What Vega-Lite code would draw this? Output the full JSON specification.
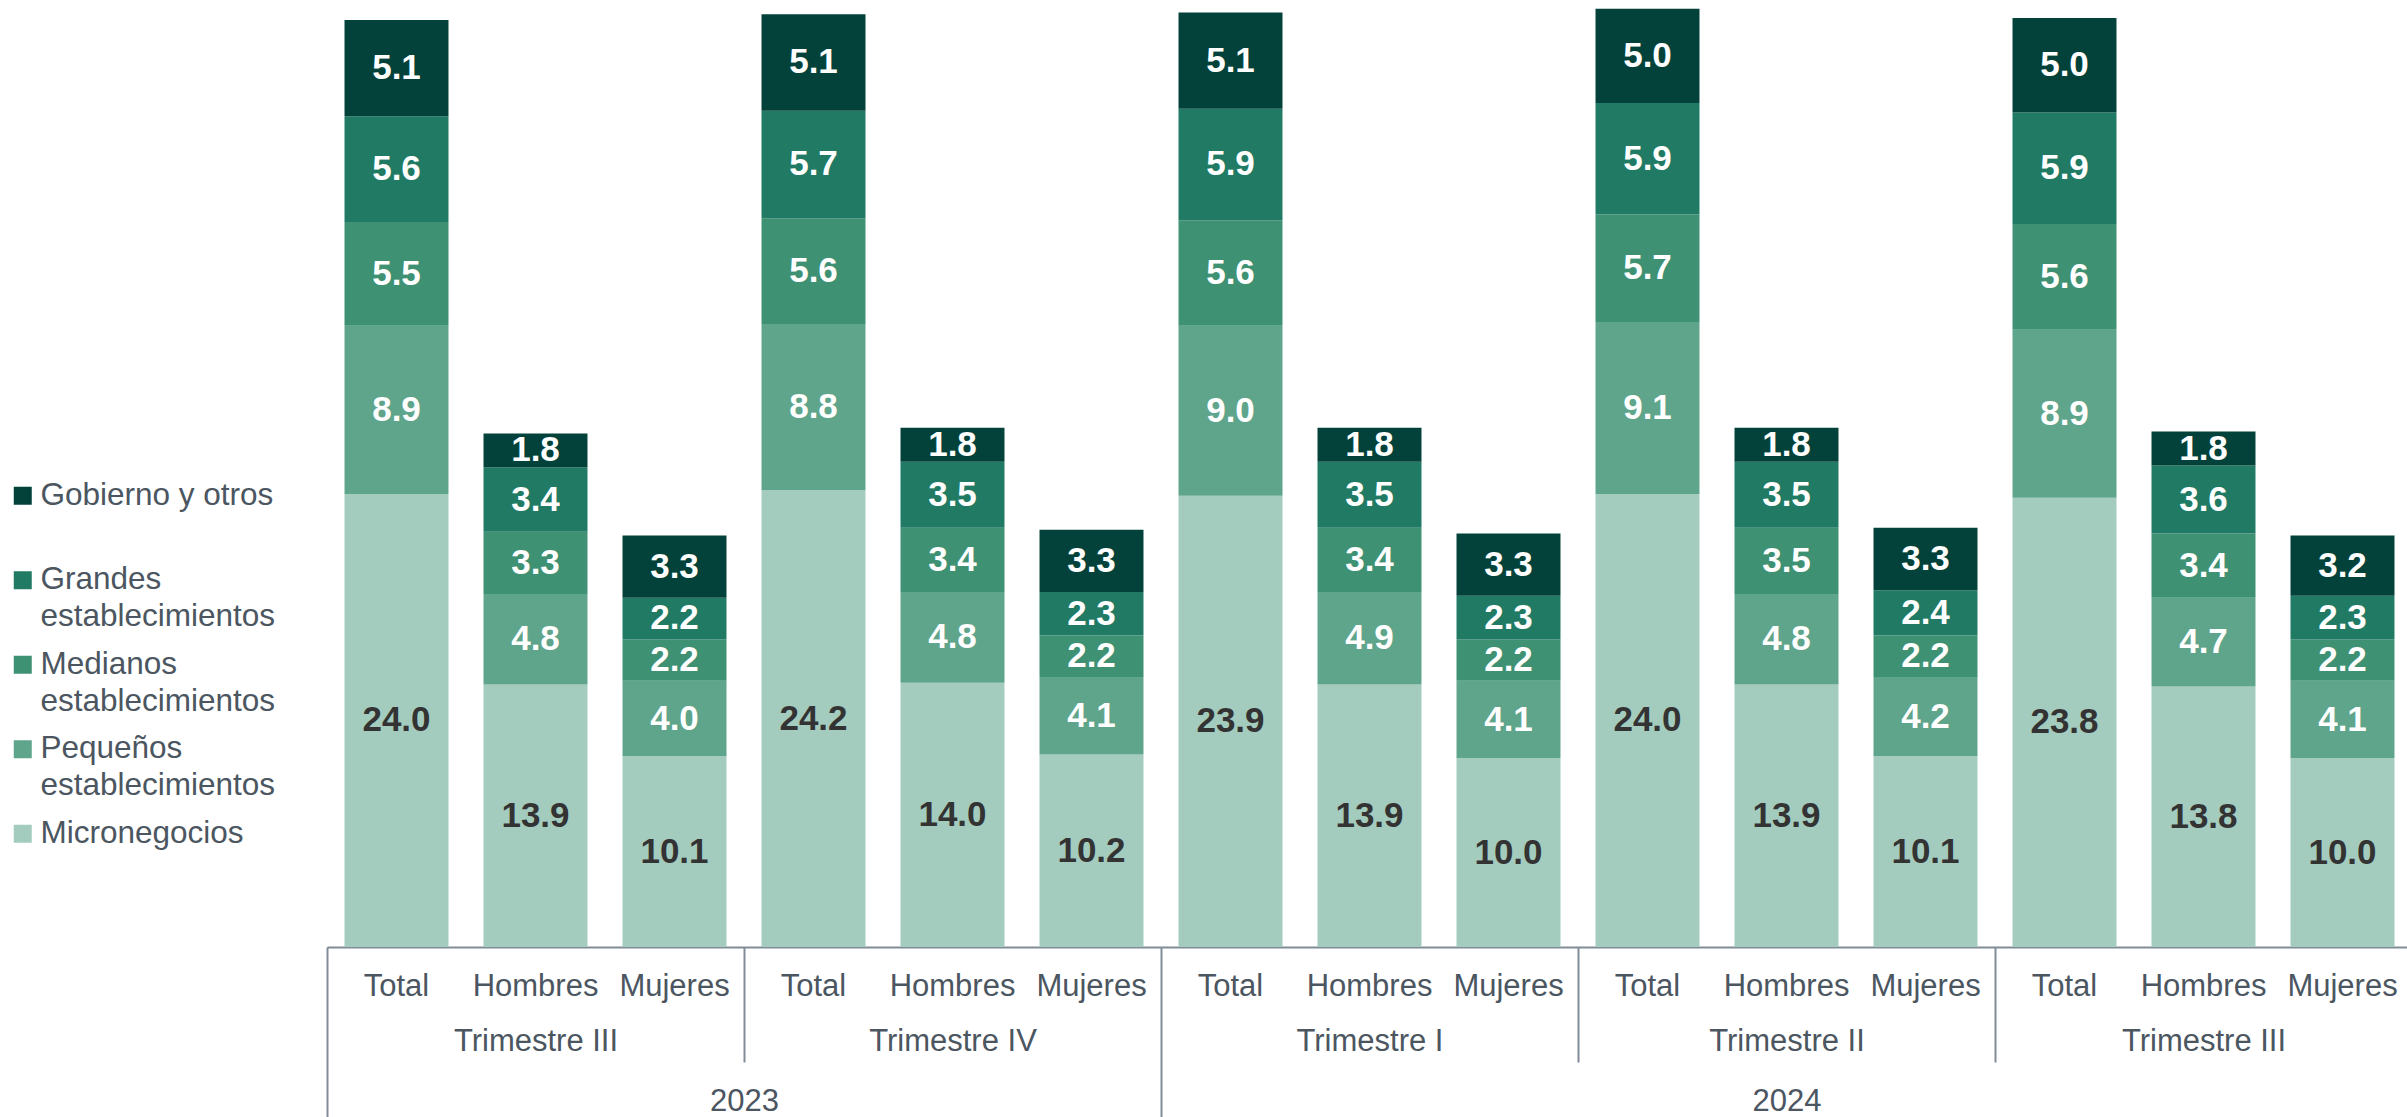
{
  "$schema": "https://vega.github.io/schema/vega-lite/v6.json",
  "width": 2085,
  "height": 947,
  "autosize": {"type": "none"},
  "padding": {"left": 327, "top": 0, "right": 0, "bottom": 170},
  "background": "white",
  "config": {
    "view": {"stroke": null},
    "font": "Liberation Sans",
    "style": {"guide-label": {"lineHeight": 37}}
  },
  "datasets": {
    "capas": [
      {"tamano": "Micronegocios", "capa": 1},
      {"tamano": "Pequeños establecimientos", "capa": 2},
      {"tamano": "Medianos establecimientos", "capa": 3},
      {"tamano": "Grandes establecimientos", "capa": 4},
      {"tamano": "Gobierno y otros", "capa": 5}
    ],
    "empleo": [
      {"clave": "2023|Trimestre III|Total", "tamano": "Micronegocios", "valor": 24.0},
      {"clave": "2023|Trimestre III|Total", "tamano": "Pequeños establecimientos", "valor": 8.9},
      {"clave": "2023|Trimestre III|Total", "tamano": "Medianos establecimientos", "valor": 5.5},
      {"clave": "2023|Trimestre III|Total", "tamano": "Grandes establecimientos", "valor": 5.6},
      {"clave": "2023|Trimestre III|Total", "tamano": "Gobierno y otros", "valor": 5.1},
      {"clave": "2023|Trimestre III|Hombres", "tamano": "Micronegocios", "valor": 13.9},
      {"clave": "2023|Trimestre III|Hombres", "tamano": "Pequeños establecimientos", "valor": 4.8},
      {"clave": "2023|Trimestre III|Hombres", "tamano": "Medianos establecimientos", "valor": 3.3},
      {"clave": "2023|Trimestre III|Hombres", "tamano": "Grandes establecimientos", "valor": 3.4},
      {"clave": "2023|Trimestre III|Hombres", "tamano": "Gobierno y otros", "valor": 1.8},
      {"clave": "2023|Trimestre III|Mujeres", "tamano": "Micronegocios", "valor": 10.1},
      {"clave": "2023|Trimestre III|Mujeres", "tamano": "Pequeños establecimientos", "valor": 4.0},
      {"clave": "2023|Trimestre III|Mujeres", "tamano": "Medianos establecimientos", "valor": 2.2},
      {"clave": "2023|Trimestre III|Mujeres", "tamano": "Grandes establecimientos", "valor": 2.2},
      {"clave": "2023|Trimestre III|Mujeres", "tamano": "Gobierno y otros", "valor": 3.3},
      {"clave": "2023|Trimestre IV|Total", "tamano": "Micronegocios", "valor": 24.2},
      {"clave": "2023|Trimestre IV|Total", "tamano": "Pequeños establecimientos", "valor": 8.8},
      {"clave": "2023|Trimestre IV|Total", "tamano": "Medianos establecimientos", "valor": 5.6},
      {"clave": "2023|Trimestre IV|Total", "tamano": "Grandes establecimientos", "valor": 5.7},
      {"clave": "2023|Trimestre IV|Total", "tamano": "Gobierno y otros", "valor": 5.1},
      {"clave": "2023|Trimestre IV|Hombres", "tamano": "Micronegocios", "valor": 14.0},
      {"clave": "2023|Trimestre IV|Hombres", "tamano": "Pequeños establecimientos", "valor": 4.8},
      {"clave": "2023|Trimestre IV|Hombres", "tamano": "Medianos establecimientos", "valor": 3.4},
      {"clave": "2023|Trimestre IV|Hombres", "tamano": "Grandes establecimientos", "valor": 3.5},
      {"clave": "2023|Trimestre IV|Hombres", "tamano": "Gobierno y otros", "valor": 1.8},
      {"clave": "2023|Trimestre IV|Mujeres", "tamano": "Micronegocios", "valor": 10.2},
      {"clave": "2023|Trimestre IV|Mujeres", "tamano": "Pequeños establecimientos", "valor": 4.1},
      {"clave": "2023|Trimestre IV|Mujeres", "tamano": "Medianos establecimientos", "valor": 2.2},
      {"clave": "2023|Trimestre IV|Mujeres", "tamano": "Grandes establecimientos", "valor": 2.3},
      {"clave": "2023|Trimestre IV|Mujeres", "tamano": "Gobierno y otros", "valor": 3.3},
      {"clave": "2024|Trimestre I|Total", "tamano": "Micronegocios", "valor": 23.9},
      {"clave": "2024|Trimestre I|Total", "tamano": "Pequeños establecimientos", "valor": 9.0},
      {"clave": "2024|Trimestre I|Total", "tamano": "Medianos establecimientos", "valor": 5.6},
      {"clave": "2024|Trimestre I|Total", "tamano": "Grandes establecimientos", "valor": 5.9},
      {"clave": "2024|Trimestre I|Total", "tamano": "Gobierno y otros", "valor": 5.1},
      {"clave": "2024|Trimestre I|Hombres", "tamano": "Micronegocios", "valor": 13.9},
      {"clave": "2024|Trimestre I|Hombres", "tamano": "Pequeños establecimientos", "valor": 4.9},
      {"clave": "2024|Trimestre I|Hombres", "tamano": "Medianos establecimientos", "valor": 3.4},
      {"clave": "2024|Trimestre I|Hombres", "tamano": "Grandes establecimientos", "valor": 3.5},
      {"clave": "2024|Trimestre I|Hombres", "tamano": "Gobierno y otros", "valor": 1.8},
      {"clave": "2024|Trimestre I|Mujeres", "tamano": "Micronegocios", "valor": 10.0},
      {"clave": "2024|Trimestre I|Mujeres", "tamano": "Pequeños establecimientos", "valor": 4.1},
      {"clave": "2024|Trimestre I|Mujeres", "tamano": "Medianos establecimientos", "valor": 2.2},
      {"clave": "2024|Trimestre I|Mujeres", "tamano": "Grandes establecimientos", "valor": 2.3},
      {"clave": "2024|Trimestre I|Mujeres", "tamano": "Gobierno y otros", "valor": 3.3},
      {"clave": "2024|Trimestre II|Total", "tamano": "Micronegocios", "valor": 24.0},
      {"clave": "2024|Trimestre II|Total", "tamano": "Pequeños establecimientos", "valor": 9.1},
      {"clave": "2024|Trimestre II|Total", "tamano": "Medianos establecimientos", "valor": 5.7},
      {"clave": "2024|Trimestre II|Total", "tamano": "Grandes establecimientos", "valor": 5.9},
      {"clave": "2024|Trimestre II|Total", "tamano": "Gobierno y otros", "valor": 5.0},
      {"clave": "2024|Trimestre II|Hombres", "tamano": "Micronegocios", "valor": 13.9},
      {"clave": "2024|Trimestre II|Hombres", "tamano": "Pequeños establecimientos", "valor": 4.8},
      {"clave": "2024|Trimestre II|Hombres", "tamano": "Medianos establecimientos", "valor": 3.5},
      {"clave": "2024|Trimestre II|Hombres", "tamano": "Grandes establecimientos", "valor": 3.5},
      {"clave": "2024|Trimestre II|Hombres", "tamano": "Gobierno y otros", "valor": 1.8},
      {"clave": "2024|Trimestre II|Mujeres", "tamano": "Micronegocios", "valor": 10.1},
      {"clave": "2024|Trimestre II|Mujeres", "tamano": "Pequeños establecimientos", "valor": 4.2},
      {"clave": "2024|Trimestre II|Mujeres", "tamano": "Medianos establecimientos", "valor": 2.2},
      {"clave": "2024|Trimestre II|Mujeres", "tamano": "Grandes establecimientos", "valor": 2.4},
      {"clave": "2024|Trimestre II|Mujeres", "tamano": "Gobierno y otros", "valor": 3.3},
      {"clave": "2024|Trimestre III|Total", "tamano": "Micronegocios", "valor": 23.8},
      {"clave": "2024|Trimestre III|Total", "tamano": "Pequeños establecimientos", "valor": 8.9},
      {"clave": "2024|Trimestre III|Total", "tamano": "Medianos establecimientos", "valor": 5.6},
      {"clave": "2024|Trimestre III|Total", "tamano": "Grandes establecimientos", "valor": 5.9},
      {"clave": "2024|Trimestre III|Total", "tamano": "Gobierno y otros", "valor": 5.0},
      {"clave": "2024|Trimestre III|Hombres", "tamano": "Micronegocios", "valor": 13.8},
      {"clave": "2024|Trimestre III|Hombres", "tamano": "Pequeños establecimientos", "valor": 4.7},
      {"clave": "2024|Trimestre III|Hombres", "tamano": "Medianos establecimientos", "valor": 3.4},
      {"clave": "2024|Trimestre III|Hombres", "tamano": "Grandes establecimientos", "valor": 3.6},
      {"clave": "2024|Trimestre III|Hombres", "tamano": "Gobierno y otros", "valor": 1.8},
      {"clave": "2024|Trimestre III|Mujeres", "tamano": "Micronegocios", "valor": 10.0},
      {"clave": "2024|Trimestre III|Mujeres", "tamano": "Pequeños establecimientos", "valor": 4.1},
      {"clave": "2024|Trimestre III|Mujeres", "tamano": "Medianos establecimientos", "valor": 2.2},
      {"clave": "2024|Trimestre III|Mujeres", "tamano": "Grandes establecimientos", "valor": 2.3},
      {"clave": "2024|Trimestre III|Mujeres", "tamano": "Gobierno y otros", "valor": 3.2}
    ]
  },
  "data": {"name": "empleo"},
  "transform": [
    {"lookup": "tamano", "from": {"data": {"name": "capas"}, "key": "tamano", "fields": ["capa"]}}
  ],
  "layer": [
    {
      "mark": {"type": "bar"},
      "encoding": {
        "x": {
          "field": "clave", "type": "nominal", "sort": null,
          "scale": {"paddingInner": 0.252, "paddingOuter": 0.126},
          "axis": {
            "orient": "bottom", "title": null, "labelAngle": 0,
            "labelExpr": "split(datum.value, '|')[2]",
            "labelFont": "Liberation Sans", "labelFontSize": 31, "labelColor": "#4b5661",
            "labelPadding": 24, "labelOverlap": false, "labelBound": false,
            "ticks": false, "grid": false,
            "domain": true, "domainColor": "#808d98", "domainWidth": 2
          }
        },
        "y": {
          "field": "valor", "type": "quantitative", "stack": "zero",
          "scale": {"domain": [0, 50.16], "nice": false, "zero": true},
          "axis": null
        },
        "order": {"field": "capa", "type": "quantitative", "sort": "ascending"},
        "color": {
          "field": "tamano", "type": "nominal",
          "scale": {
            "domain": ["Gobierno y otros", "Grandes establecimientos", "Medianos establecimientos", "Pequeños establecimientos", "Micronegocios"],
            "range": ["#03423a", "#207a64", "#3f9174", "#5fa58b", "#a3ccbf"]
          },
          "legend": {
            "orient": "none", "legendX": -320, "legendY": 480, "title": null,
            "labelFont": "Liberation Sans", "labelFontSize": 31.5, "labelColor": "#4b5661",
            "labelBaseline": "middle",
            "labelExpr": "datum.label == 'Gobierno y otros' ? ['Gobierno y otros', ''] : datum.label == 'Micronegocios' ? 'Micronegocios' : split(datum.label, ' ')",
            "symbolType": "square", "symbolSize": 324, "symbolStrokeWidth": 0, "symbolOpacity": 1,
            "labelOffset": 2, "rowPadding": 14.5, "labelLimit": 400
          }
        }
      }
    },
    {
      "mark": {"type": "text", "font": "Liberation Sans", "fontWeight": "bold", "fontSize": 35, "baseline": "middle", "align": "center"},
      "encoding": {
        "x": {
          "field": "clave", "type": "nominal", "sort": null,
          "axis": {
            "orient": "bottom", "title": null, "labelAngle": 0,
            "labelExpr": "datum.value === '2023|Trimestre III|Mujeres' ? ['', '2023'] : datum.value === '2024|Trimestre II|Hombres' ? ['Trimestre II', '2024'] : (datum.value && split(datum.value, '|')[2] === 'Hombres') ? split(datum.value, '|')[1] : ''",
            "labelOffset": {"condition": {"test": "datum.value === '2023|Trimestre III|Mujeres'", "value": 87}, "value": 17.5},
            "labelFont": "Liberation Sans", "labelFontSize": 31, "labelColor": "#4b5661",
            "labelPadding": 79, "labelLineHeight": 60, "labelOverlap": false, "labelBound": false, "labelLimit": 400,
            "domain": false, "grid": false,
            "ticks": true, "bandPosition": 0, "tickExtra": false, "tickOffset": -17.5,
            "tickColor": "#808d98", "tickWidth": 2,
            "tickSize": {
              "condition": [
                {"test": "datum.value === '2023|Trimestre III|Total' || datum.value === '2024|Trimestre I|Total'", "value": 170},
                {"test": "datum.value === '2023|Trimestre IV|Total' || datum.value === '2024|Trimestre II|Total' || datum.value === '2024|Trimestre III|Total'", "value": 115}
              ],
              "value": 0
            }
          }
        },
        "y": {
          "field": "valor", "type": "quantitative", "stack": "zero", "bandPosition": 0.5,
          "scale": {"domain": [0, 50.16], "nice": false, "zero": true},
          "axis": null
        },
        "order": {"field": "capa", "type": "quantitative", "sort": "ascending"},
        "detail": {"field": "tamano", "type": "nominal"},
        "text": {"field": "valor", "type": "quantitative", "format": ".1f"},
        "color": {"condition": {"test": "datum.tamano === 'Micronegocios'", "value": "#333333"}, "value": "#ffffff"}
      }
    }
  ],
  "resolve": {"axis": {"x": "independent"}}
}
